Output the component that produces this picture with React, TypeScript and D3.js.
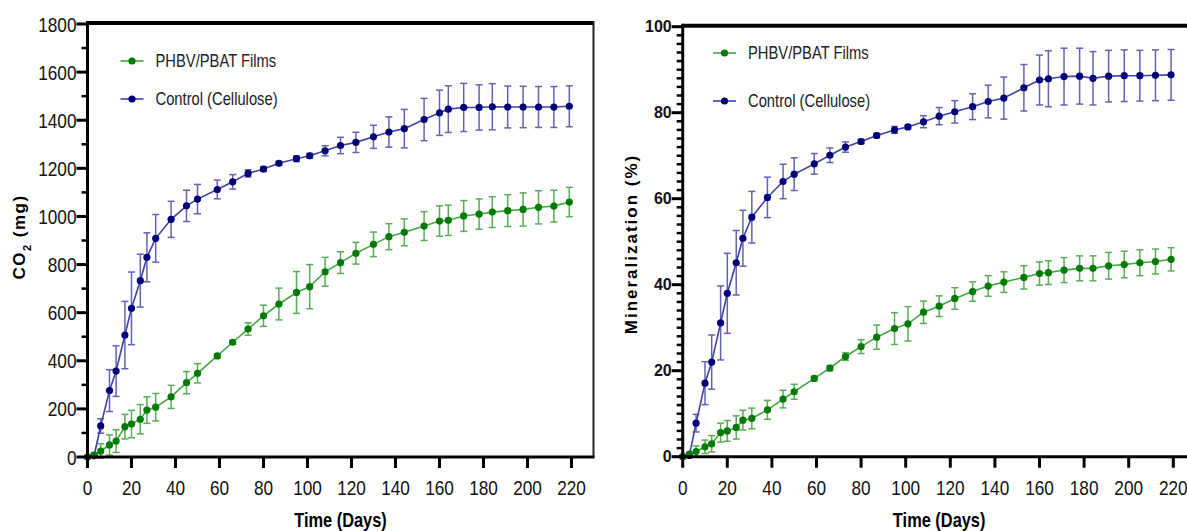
import React from "react";
import * as d3 from "d3";

const days = [0, 3, 6, 10, 13, 17, 20, 24, 27, 31, 38, 45, 50, 59, 66, 73, 80, 87, 95, 101, 108, 115, 122, 130, 137, 144, 153, 160, 164, 171, 178, 184, 191, 198, 205, 212, 219];

const co2Films = [0, 8, 25, 50, 66, 126, 137, 157, 195, 207, 250, 309, 348, 420, 477, 532, 587, 636, 684, 708, 770, 808, 847, 884, 916, 934, 960, 981, 984, 1002, 1010, 1018, 1024, 1029, 1038, 1043, 1060];
const co2FilmsErr = [0, 10, 30, 42, 47, 51, 57, 61, 55, 57, 48, 46, 40, 8, 8, 26, 44, 66, 87, 92, 60, 45, 45, 51, 54, 56, 60, 63, 63, 64, 63, 64, 66, 69, 69, 66, 61];
const co2Control = [0, 5, 129, 276, 357, 507, 618, 733, 830, 909, 988, 1044, 1072, 1112, 1144, 1179, 1197, 1221, 1240, 1252, 1273, 1295, 1308, 1331, 1351, 1365, 1403, 1431, 1446, 1453, 1453, 1456, 1455, 1455, 1455, 1455, 1458];
const co2ControlErr = [0, 3, 30, 87, 105, 140, 151, 110, 102, 99, 75, 65, 61, 39, 30, 15, 10, 8, 12, 10, 21, 34, 42, 48, 63, 80, 88, 94, 97, 100, 94, 96, 87, 86, 85, 85, 85];

const minFilms = [0, 0.6, 1.2, 2.3, 3.0, 5.6, 6.0, 6.8, 8.5, 8.9, 10.9, 13.4, 15.1, 18.2, 20.6, 23.3, 25.6, 27.8, 29.8, 30.9, 33.6, 35.0, 36.8, 38.4, 39.7, 40.6, 41.7, 42.6, 42.8, 43.4, 43.8, 43.8, 44.4, 44.7, 45.1, 45.4, 45.9];
const minFilmsErr = [0, 0.3, 1.3, 1.55, 1.9, 2.2, 2.4, 2.7, 2.3, 2.4, 2.2, 2.05, 1.75, 0.5, 0.6, 0.9, 1.6, 2.8, 3.7, 4.0, 2.6, 2.4, 2.5, 2.25, 2.4, 2.4, 2.7, 2.7, 2.75, 2.9, 2.9, 2.9, 3.1, 3.1, 3.0, 2.9, 2.7];
const minControl = [0, 0.3, 7.8, 17.1, 22.0, 31.1, 38.0, 45.1, 50.8, 55.7, 60.3, 64.0, 65.7, 68.1, 70.1, 72.0, 73.3, 74.7, 76.0, 76.7, 77.9, 79.2, 80.2, 81.4, 82.6, 83.4, 85.8, 87.6, 87.9, 88.4, 88.5, 88.0, 88.5, 88.6, 88.6, 88.7, 88.8];
const minControlErr = [0, 0.2, 2.05, 5.0, 6.3, 8.6, 9.3, 7.5, 6.5, 6.0, 4.7, 4.0, 3.8, 2.4, 1.7, 1.2, 0.5, 0.5, 0.8, 0.5, 1.4, 2.0, 2.6, 3.0, 3.8, 4.9, 5.4, 5.8, 6.5, 6.6, 6.5, 6.2, 6.0, 6.0, 5.9, 5.9, 5.9];

const xTicks = [0, 20, 40, 60, 80, 100, 120, 140, 160, 180, 200, 220];
const co2Ticks = [0, 200, 400, 600, 800, 1000, 1200, 1400, 1600, 1800];
const minTicks = [0, 20, 40, 60, 80, 100];
const seriesNames = ["PHBV/PBAT Films", "Control (Cellulose)"];

const GREEN = { dot: "#007a00", line: "#43a843", err: "#3aa03a" };
const BLUE = { dot: "#000078", line: "#4040a8", err: "#4848a8" };

const sans = "'Liberation Sans', Arial, sans-serif";
const NARROW = 0.82;

type Series = { values: number[]; errs: number[]; color: { dot: string; line: string; err: string } };

function NText(p: { x: number; y: number; anchor?: string; size: number; weight?: string | number; fill?: string; dy?: string; children: React.ReactNode }) {
  return (
    <text transform={`translate(${p.x},${p.y}) scale(${NARROW},1)`} textAnchor={p.anchor || "start"} dy={p.dy}
      fontFamily={sans} fontSize={p.size} fontWeight={p.weight || "normal"} fill={p.fill || "#111"}>
      {p.children}
    </text>
  );
}

function Panel(props: {
  x0: number; x1: number; yTop: number; yBottom: number; yMax: number;
  yTicks: number[]; yMinorStep: number; series: Series[]; drawOrder: number[];
  yTitle: React.ReactNode; yTitleX: number; yTitleY: number; yTitleSize: number; yTitleSpacing: number;
  legendX: number; legendY: number[];
  narrowY: boolean; borderRight: boolean;
}) {
  const x = d3.scaleLinear().domain([0, 230]).range([props.x0, props.x1]);
  const y = d3.scaleLinear().domain([0, props.yMax]).range([props.yBottom, props.yTop]);
  const minor = d3.range(0, props.yMax + 0.001, props.yMinorStep).filter((v) => !props.yTicks.includes(v));
  const line = d3.line<number>().x((_, i) => x(days[i])).y((v) => y(v));
  const ax = x(0);
  const by = y(0);
  return (
    <g>
      {props.drawOrder.map((si) => {
        const s = props.series[si];
        return (
          <g key={si}>
            <path d={line(s.values) || ""} fill="none" stroke={s.color.line} strokeWidth={1.6} />
            {s.values.map((v, i) =>
              s.errs[i] > 0 ? (
                <g key={i} stroke={s.color.err} strokeWidth={1.5} opacity={0.85}>
                  <line x1={x(days[i])} x2={x(days[i])} y1={y(v - s.errs[i])} y2={y(v + s.errs[i])} />
                  <line x1={x(days[i]) - 3.5} x2={x(days[i]) + 3.5} y1={y(v + s.errs[i])} y2={y(v + s.errs[i])} />
                  <line x1={x(days[i]) - 3.5} x2={x(days[i]) + 3.5} y1={y(v - s.errs[i])} y2={y(v - s.errs[i])} />
                </g>
              ) : null
            )}
            {s.values.map((v, i) => (
              <circle key={"c" + i} cx={x(days[i])} cy={y(v)} r={3.6} fill={s.color.dot} />
            ))}
          </g>
        );
      })}
      <line x1={ax} x2={props.x1} y1={props.yTop - 1} y2={props.yTop - 1} stroke="#000" strokeWidth={4} />
      {props.borderRight && (
        <line x1={props.x1} x2={props.x1} y1={props.yTop - 3} y2={by} stroke="#222" strokeWidth={2} />
      )}
      <line x1={ax} x2={ax} y1={props.yTop - 3} y2={by + 1.5} stroke="#000" strokeWidth={3} />
      <line x1={ax - 1.5} x2={props.x1 + 1} y1={by} y2={by} stroke="#000" strokeWidth={3} />
      {props.yTicks.map((t) => (
        <g key={"yt" + t}>
          <line x1={ax - 11} x2={ax} y1={y(t)} y2={y(t)} stroke="#000" strokeWidth={3} />
          {props.narrowY ? (
            <NText x={ax - 11} y={y(t)} dy="0.36em" anchor="end" size={21}>{t}</NText>
          ) : (
            <text x={ax - 11} y={y(t)} dy="0.36em" textAnchor="end" fontFamily={sans} fontWeight="bold" fontSize={16} fill="#111">{t}</text>
          )}
        </g>
      ))}
      {minor.map((t) => (
        <line key={"ym" + t} x1={ax - 6} x2={ax} y1={y(t)} y2={y(t)} stroke="#000" strokeWidth={2.5} />
      ))}
      {xTicks.map((t) => (
        <g key={"xt" + t}>
          <line x1={x(t)} x2={x(t)} y1={by} y2={by + 11} stroke="#000" strokeWidth={3} />
          <NText x={x(t)} y={495} anchor="middle" size={21}>{t}</NText>
        </g>
      ))}
      <NText x={(props.x0 + props.x1) / 2} y={527} anchor="middle" size={20} weight="bold" fill="#000">Time (Days)</NText>
      <text transform={`translate(${props.yTitleX},${props.yTitleY}) rotate(-90)`} textAnchor="middle" fontFamily={sans}
        fontWeight="bold" fontSize={props.yTitleSize} letterSpacing={props.yTitleSpacing} fill="#000">{props.yTitle}</text>
      {[0, 1].map((li) => {
        const s = props.series[li];
        return (
          <g key={"lg" + li}>
            <line x1={props.legendX} x2={props.legendX + 23} y1={props.legendY[li]} y2={props.legendY[li]} stroke={s.color.line} strokeWidth={1.6} />
            <circle cx={props.legendX + 11.5} cy={props.legendY[li]} r={3.6} fill={s.color.dot} />
            <NText x={props.legendX + 35} y={props.legendY[li]} dy="0.35em" size={18} fill="#222">{seriesNames[li]}</NText>
          </g>
        );
      })}
    </g>
  );
}

export default function App() {
  return (
    <svg width={1187} height={531} style={{ position: "absolute", left: 0, top: 0, background: "#fff" }}>
      <Panel x0={87.5} x1={593.5} yTop={24} yBottom={457} yMax={1800} yTicks={co2Ticks} yMinorStep={100}
        series={[{ values: co2Films, errs: co2FilmsErr, color: GREEN }, { values: co2Control, errs: co2ControlErr, color: BLUE }]}
        drawOrder={[1, 0]}
        yTitle={<tspan>CO<tspan baselineShift="sub" fontSize={11}>2</tspan> (mg)</tspan>} yTitleX={25} yTitleY={237}
        yTitleSize={17} yTitleSpacing={1.5}
        legendX={120.5} legendY={[61, 99]} narrowY={true} borderRight={true} />
      <Panel x0={682.7} x1={1195.6} yTop={26.7} yBottom={456.7} yMax={100} yTicks={minTicks} yMinorStep={2}
        series={[{ values: minFilms, errs: minFilmsErr, color: GREEN }, { values: minControl, errs: minControlErr, color: BLUE }]}
        drawOrder={[1, 0]}
        yTitle="Mineralization (%)" yTitleX={637} yTitleY={244} yTitleSize={17} yTitleSpacing={2}
        legendX={713} legendY={[53, 101]} narrowY={false} borderRight={false} />
    </svg>
  );
}
